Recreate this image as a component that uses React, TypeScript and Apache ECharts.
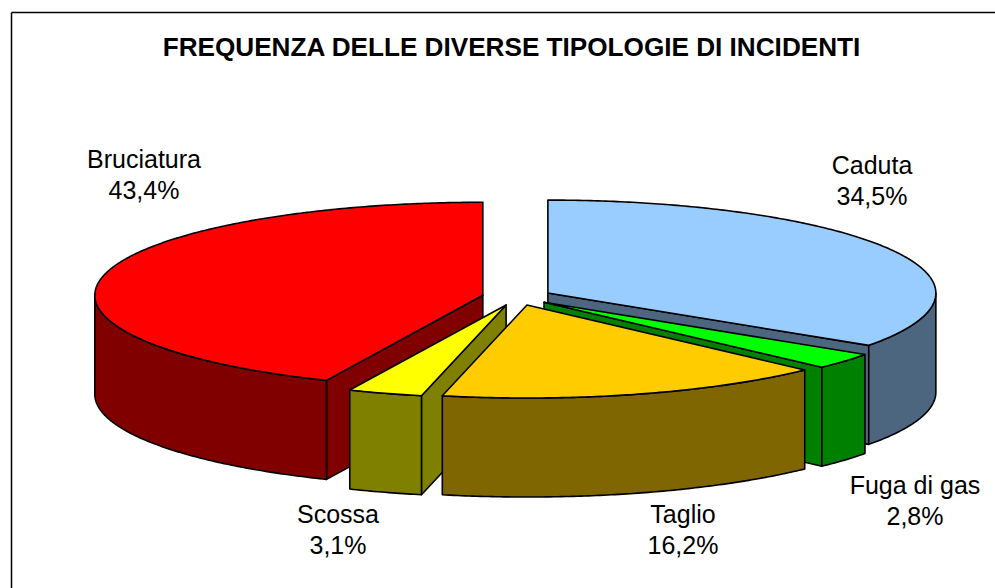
import React, { useEffect, useRef } from "react";
import * as echarts from "echarts";

const titleText = "FREQUENZA DELLE DIVERSE TIPOLOGIE DI INCIDENTI";
const categories = ["Caduta", "Fuga di gas", "Taglio", "Scossa", "Bruciatura"];
const shares = [34.5, 2.8, 16.2, 3.1, 43.4];
const valueLabels = ["34,5%", "2,8%", "16,2%", "3,1%", "43,4%"];
const topColors = ["#99CCFF", "#00FF00", "#FFCC00", "#FFFF00", "#FF0000"];
const wallColors = ["#4D6680", "#008000", "#806600", "#808000", "#800000"];
const labelCentres = [[872, 180], [915, 500], [683, 529], [338, 529], [144, 174]];

const CX = 517, CY = 297, RX = 388, RY = 93, DEPTH = 99, EXPLODE = 0.09;
const TAU = Math.PI * 2;

const total = shares.reduce((a, b) => a + b, 0);
const ends: number[] = [];
shares.reduce((acc, v, i) => ((ends[i] = acc + (v / total) * TAU), ends[i]), 0);
const starts = ends.map((_, i) => (i === 0 ? 0 : ends[i - 1]));
const mids = starts.map((s, i) => (s + ends[i]) / 2);
// back-to-front painting order
const order = shares.map((_, i) => i).sort((a, b) => Math.cos(mids[b]) - Math.cos(mids[a]));

function arc(ax: number, ay: number, t0: number, t1: number, dy = 0) {
  const n = Math.max(2, Math.ceil(Math.abs(t1 - t0) / 0.01));
  const pts: number[][] = [];
  for (let k = 0; k <= n; k++) {
    const t = t0 + ((t1 - t0) * k) / n;
    pts.push([ax + RX * Math.sin(t), ay - RY * Math.cos(t) + dy]);
  }
  return pts;
}
const base = { stroke: "#000000", lineWidth: 1.6, lineJoin: "round" };
const poly = (points: number[][], fill: string) => ({
  type: "polygon", shape: { points }, style: { ...base, fill },
});

function renderItem(_: any, api: any) {
  const i = api.value(0);
  const t0 = starts[i], t1 = ends[i], m = mids[i];
  const ax = CX + EXPLODE * RX * Math.sin(m);
  const ay = CY - EXPLODE * RY * Math.cos(m);
  const children: any[] = [];
  const face = (t: number) => {
    const ex = ax + RX * Math.sin(t), ey = ay - RY * Math.cos(t);
    children.push(poly([[ax, ay], [ex, ey], [ex, ey + DEPTH], [ax, ay + DEPTH]], wallColors[i]));
  };
  // a cut face is visible when its outward normal points towards the viewer
  if (Math.sin(t0) < 0) face(t0);
  if (Math.sin(t1) > 0) face(t1);
  const w0 = Math.max(t0, Math.PI / 2), w1 = Math.min(t1, (3 * Math.PI) / 2);
  if (w1 > w0) {
    children.push(poly([...arc(ax, ay, w0, w1), ...arc(ax, ay, w1, w0, DEPTH)], wallColors[i]));
  }
  children.push(poly([[ax, ay], ...arc(ax, ay, t0, t1)], topColors[i]));
  return { type: "group", children };
}

export default function App() {
  const ref = useRef<HTMLDivElement>(null);
  useEffect(() => {
    document.body.style.margin = "0";
    document.body.style.background = "#ffffff";
    const chart = echarts.init(ref.current!, null, { renderer: "svg" });
    chart.setOption({
      animation: false,
      backgroundColor: "#ffffff",
      title: {
        text: titleText, left: 506.5, top: 29, textAlign: "center",
        textStyle: { fontFamily: "Liberation Sans", fontWeight: "bold", fontSize: 26.15, color: "#000" },
      },
      series: [{
        type: "custom",
        coordinateSystem: "none",
        silent: true,
        renderItem,
        data: order.map((i) => [i, shares[i]]),
      }],
      graphic: [
        { type: "line", shape: { x1: 11.5, y1: 12.5, x2: 995, y2: 12.5 }, style: { stroke: "#000", lineWidth: 1.5 }, z: 10 },
        { type: "line", shape: { x1: 11.5, y1: 12.5, x2: 11.5, y2: 588 }, style: { stroke: "#000", lineWidth: 1.5 }, z: 10 },
        ...categories.map((c, i) => ({
          type: "text", x: labelCentres[i][0], y: labelCentres[i][1], z: 11,
          style: {
            text: `${c}\n${valueLabels[i]}`, align: "center", verticalAlign: "middle",
            fontFamily: "Liberation Sans", fontSize: 25, lineHeight: 31, fill: "#000",
          },
        })),
      ],
    });
    return () => chart.dispose();
  }, []);
  return <div ref={ref} style={{ width: 995, height: 588 }} />;
}
